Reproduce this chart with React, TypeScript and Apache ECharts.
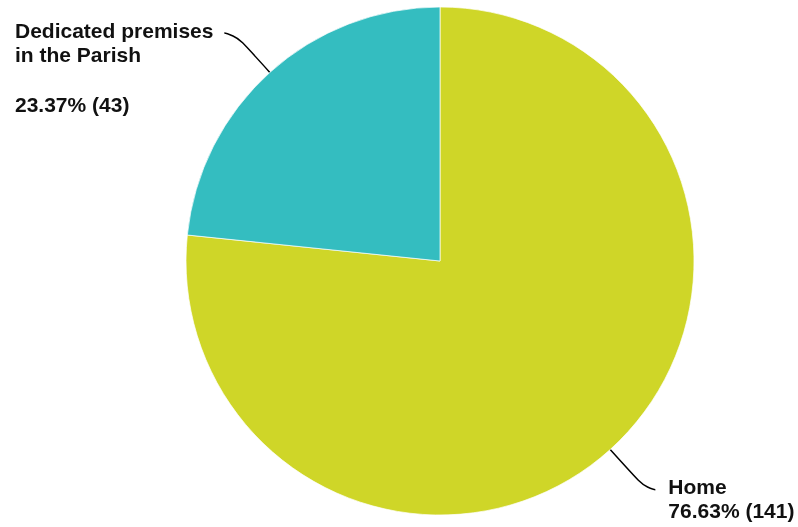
import React, { useEffect, useRef } from "react";
import * as echarts from "echarts";

const categories = ["Home", "Dedicated premises\nin the Parish"];
const counts = [141, 43];
const percents = ["76.63", "23.37"];
const colors = ["#CFD628", "#34BDC0"];

const LINE_HEIGHTS = [24, 24.8];

export default function App() {
  const ref = useRef<HTMLDivElement>(null);
  useEffect(() => {
    if (!ref.current) return;
    const chart = echarts.init(ref.current, undefined, { renderer: "svg" });
    const data = categories.map((name, i) => {
      const item: any = {
        name,
        value: counts[i],
        itemStyle: { color: colors[i] },
      };
      if (i === 1) {
        item.label = {
          alignTo: "edge",
          edgeDistance: 15,
          distanceToLabelLine: 5,
          lineHeight: LINE_HEIGHTS[i],
          formatter: `${name}\n\n${percents[i]}% (${counts[i]})`,
        };
        item.labelLine = { length: 53, length2: 10 };
      } else {
        item.label = {
          lineHeight: LINE_HEIGHTS[i],
          formatter: `${name}\n${percents[i]}% (${counts[i]})`,
        };
      }
      return item;
    });
    chart.setOption({
      animation: false,
      series: [
        {
          type: "pie",
          center: [440, 261],
          radius: [0, 254],
          startAngle: 90,
          clockwise: true,
          avoidLabelOverlap: false,
          itemStyle: { borderColor: "#ffffff", borderWidth: 0.7 },
          label: {
            show: true,
            position: "outside",
            fontFamily: "Liberation Sans, Arial, sans-serif",
            fontWeight: "bold",
            fontSize: 21,
            color: "#111111",
            distanceToLabelLine: 13,
          },
          labelLine: {
            show: true,
            length: 54,
            length2: 9,
            smooth: 0.8,
            lineStyle: { color: "#000000", width: 1.5 },
          },
          labelLayout: (p: any) => {
            const pts = p.labelLinePoints;
            if (!pts) return {};
            const lh = LINE_HEIGHTS[p.dataIndex];
            const anchorY = pts[pts.length - 1][1];
            return {
              y: anchorY - 3 + p.labelRect.height / 2 - lh / 2,
              labelLinePoints: pts,
            };
          },
          data,
        },
      ],
    });
    return () => chart.dispose();
  }, []);
  return (
    <div
      ref={ref}
      style={{ position: "fixed", left: 0, top: 0, width: 798, height: 527 }}
    />
  );
}
